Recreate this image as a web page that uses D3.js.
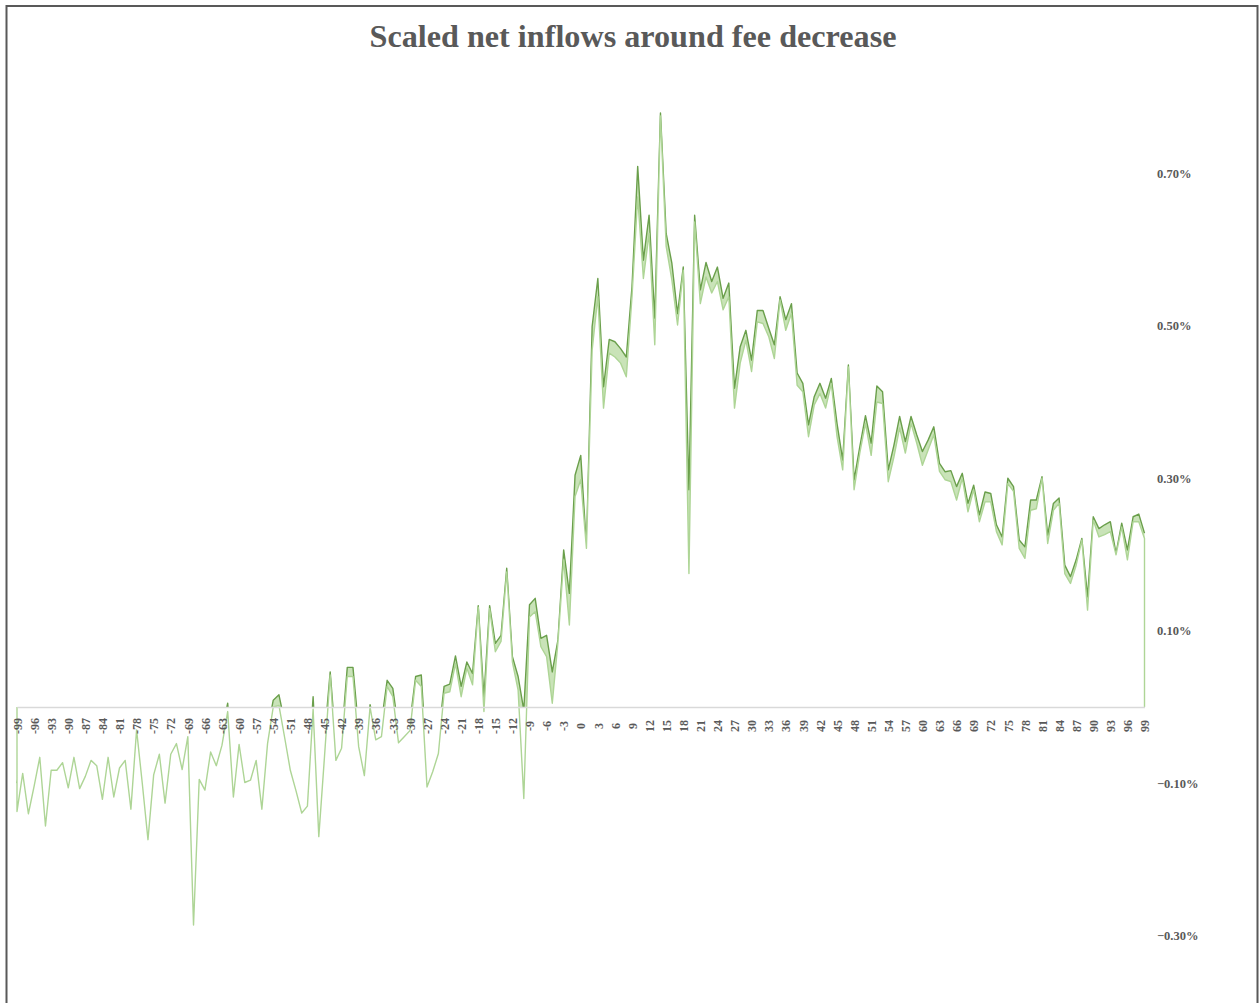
<!DOCTYPE html>
<html>
<head>
<meta charset="utf-8">
<script src="https://cdn.jsdelivr.net/npm/d3@7"></script>
<style>
  body { margin: 0; background: #fff; }
  text { font-family: "Liberation Serif", "DejaVu Serif", serif; fill: #595959; }
</style>
</head>
<body>
<svg width="1260" height="1003"></svg>
<script>
// event days around the fee decrease
const days = d3.range(-99, 100);

// lower band (light green), % of assets
const lower = [
  -0.137, -0.087, -0.140, -0.104, -0.066, -0.156, -0.083, -0.083, -0.073, -0.106, // -99..-90
  -0.066, -0.107, -0.091, -0.070, -0.077, -0.121, -0.066, -0.118, -0.080, -0.070, // -89..-80
  -0.134, -0.030, -0.100, -0.174, -0.089, -0.062, -0.126, -0.062, -0.048, -0.082, // -79..-70
  -0.039, -0.286, -0.095, -0.109, -0.059, -0.077, -0.050, -0.006, -0.118, -0.049, // -69..-60
  -0.099, -0.096, -0.070, -0.134, -0.048, 0.000, 0.002, -0.040, -0.083, -0.110,   // -59..-50
  -0.139, -0.130, -0.003, -0.170, -0.065, 0.042, -0.070, -0.054, 0.040, 0.040,    // -49..-40
  -0.052, -0.090, 0.000, -0.043, -0.039, 0.027, 0.0135, -0.047, -0.039, -0.031,   // -39..-30
  0.035, 0.027, -0.105, -0.085, -0.061, 0.018, 0.020, 0.057, 0.0135, 0.051,       // -29..-20
  0.029, 0.131, -0.006, 0.129, 0.0725, 0.086, 0.177, 0.059, 0.022, -0.120,        // -19..-10
  0.118, 0.125, 0.079, 0.066, 0.005, 0.085, 0.193, 0.1075, 0.276, 0.298,          // -9..0
  0.208, 0.468, 0.538, 0.392, 0.464, 0.459, 0.451, 0.433, 0.538, 0.669,           // 1..10
  0.562, 0.621, 0.475, 0.775, 0.604, 0.560, 0.501, 0.573, 0.175, 0.636,           // 11..20
  0.529, 0.564, 0.543, 0.558, 0.521, 0.538, 0.392, 0.451, 0.481, 0.440,           // 21..30
  0.505, 0.503, 0.486, 0.457, 0.534, 0.494, 0.516, 0.422, 0.4135, 0.3545,         // 31..40
  0.396, 0.411, 0.392, 0.424, 0.355, 0.311, 0.446, 0.285, 0.333, 0.372,           // 41..50
  0.330, 0.400, 0.398, 0.2955, 0.328, 0.366, 0.333, 0.372, 0.346, 0.317,          // 51..60
  0.337, 0.357, 0.309, 0.298, 0.2955, 0.2715, 0.300, 0.256, 0.285, 0.243,         // 61..70
  0.269, 0.269, 0.230, 0.2125, 0.293, 0.283, 0.208, 0.195, 0.258, 0.260,          // 71..80
  0.300, 0.2145, 0.258, 0.267, 0.175, 0.162, 0.186, 0.219, 0.127, 0.245,          // 81..90
  0.223, 0.226, 0.230, 0.1995, 0.236, 0.193, 0.243, 0.243, 0.221                  // 91..99
];

// upper band (dark green), % of assets
const upper = [
  -0.10, -0.06, -0.11, -0.08, -0.04, -0.12, -0.06, -0.06, -0.05, -0.08,           // -99..-90
  -0.04, -0.08, -0.07, -0.05, -0.05, -0.09, -0.04, -0.09, -0.06, -0.05,           // -89..-80
  -0.10, -0.02, -0.07, -0.13, -0.06, -0.04, -0.09, -0.04, -0.03, -0.06,           // -79..-70
  -0.02, -0.22, -0.07, -0.08, -0.04, -0.05, -0.03, 0.005, -0.09, -0.03,           // -69..-60
  -0.07, -0.07, -0.05, -0.10, -0.03, 0.009, 0.016, -0.02, -0.06, -0.08,           // -59..-50
  -0.10, -0.10, 0.0135, -0.13, -0.04, 0.046, -0.05, -0.04, 0.052, 0.052,          // -49..-40
  -0.03, -0.06, 0.003, -0.03, -0.02, 0.035, 0.0245, -0.03, -0.02, -0.02,          // -39..-30
  0.040, 0.042, -0.08, -0.06, -0.04, 0.027, 0.030, 0.067, 0.027, 0.059,           // -29..-20
  0.044, 0.133, 0.0135, 0.133, 0.0835, 0.094, 0.182, 0.066, 0.040, -0.004,        // -19..-10
  0.134, 0.1425, 0.090, 0.094, 0.046, 0.088, 0.206, 0.149, 0.304, 0.330,          // -9..0
  0.210, 0.499, 0.562, 0.420, 0.482, 0.479, 0.470, 0.459, 0.551, 0.709,           // 1..10
  0.586, 0.645, 0.510, 0.779, 0.621, 0.582, 0.516, 0.577, 0.285, 0.645,           // 11..20
  0.547, 0.583, 0.558, 0.577, 0.536, 0.556, 0.418, 0.4725, 0.494, 0.455,          // 21..30
  0.520, 0.520, 0.497, 0.475, 0.538, 0.508, 0.529, 0.438, 0.4245, 0.370,          // 31..40
  0.407, 0.4245, 0.405, 0.431, 0.372, 0.324, 0.4485, 0.298, 0.341, 0.382,         // 41..50
  0.346, 0.421, 0.4135, 0.311, 0.3435, 0.381, 0.348, 0.381, 0.357, 0.335,         // 51..60
  0.350, 0.3675, 0.3195, 0.3085, 0.310, 0.289, 0.3065, 0.267, 0.291, 0.252,       // 61..70
  0.282, 0.280, 0.239, 0.223, 0.300, 0.289, 0.219, 0.210, 0.2715, 0.2715,        // 71..80
  0.302, 0.2255, 0.267, 0.274, 0.186, 0.171, 0.193, 0.221, 0.1445, 0.2495,        // 81..90
  0.234, 0.239, 0.243, 0.2015, 0.241, 0.206, 0.2495, 0.253, 0.228                 // 91..99
];

const yTicks = [0.7, 0.5, 0.3, 0.1, -0.1, -0.3];

const data = days.map((d, i) => ({ day: d, lo: lower[i], hi: upper[i] }));

const svg = d3.select("svg");

// outer frame
svg.append("rect")
  .attr("x", 6.5).attr("y", 6)
  .attr("width", 1251).attr("height", 1010)
  .attr("fill", "none")
  .attr("stroke", "#595959")
  .attr("stroke-width", 2);

svg.append("text")
  .attr("x", 633)
  .attr("y", 47)
  .attr("text-anchor", "middle")
  .attr("font-size", 31)
  .attr("font-weight", "bold")
  .attr("textLength", 527)
  .attr("lengthAdjust", "spacingAndGlyphs")
  .text("Scaled net inflows around fee decrease");

const x = d3.scalePoint().domain(days).range([17, 1144.5]);
const y = d3.scaleLinear().domain([-0.3, 0.7]).range([935.75, 173.25]);

// upper series: filled band + dark outline
svg.append("path")
  .datum(data)
  .attr("fill", "#c9e3b8")
  .attr("d", d3.area().x(d => x(d.day)).y0(y(0)).y1(d => y(d.hi)));

svg.append("path")
  .datum(data)
  .attr("fill", "none")
  .attr("stroke", "#6a9f4b")
  .attr("stroke-width", 1.4)
  .attr("stroke-linejoin", "round")
  .attr("d", d3.line().x(d => x(d.day)).y(d => y(d.hi)));

// lower series: white fill hides everything under it, light outline
svg.append("path")
  .datum(data)
  .attr("fill", "#fff")
  .attr("d", d3.area().x(d => x(d.day)).y0(y(0)).y1(d => y(d.lo)));

const edge = [{ day: -99, lo: 0 }, ...data, { day: 99, lo: 0 }];
svg.append("path")
  .datum(edge)
  .attr("fill", "none")
  .attr("stroke", "#aed596")
  .attr("stroke-width", 1.4)
  .attr("stroke-linejoin", "round")
  .attr("d", d3.line().x(d => x(d.day)).y(d => y(d.lo)));

// zero axis with rotated day labels
const xAxis = svg.append("g")
  .attr("transform", `translate(0, ${y(0)})`)
  .call(d3.axisBottom(x).tickValues(days.filter(d => (d + 99) % 3 === 0)).tickSize(0).tickPadding(0));
xAxis.select(".domain").attr("stroke", "#d9d9d9").attr("stroke-width", 1.5);
xAxis.selectAll("text")
  .attr("transform", "rotate(-90)")
  .attr("x", -19).attr("y", 0)
  .attr("dy", "0.35em")
  .attr("text-anchor", "middle")
  .attr("font-size", 12)
  .attr("font-weight", "bold")
  .attr("fill", "#595959")
  .attr("font-family", "Liberation Serif, serif")
  .text(d => d < 0 ? "-" + Math.abs(d) : d);

// right-hand percentage labels
svg.append("g")
  .selectAll("text")
  .data(yTicks)
  .enter()
  .append("text")
  .attr("x", 1157)
  .attr("y", d => y(d))
  .attr("dy", "0.35em")
  .attr("font-size", 12.5)
  .attr("font-weight", "bold")
  .text(d => d3.format(".2f")(d) + "%");
</script>
</body>
</html>
